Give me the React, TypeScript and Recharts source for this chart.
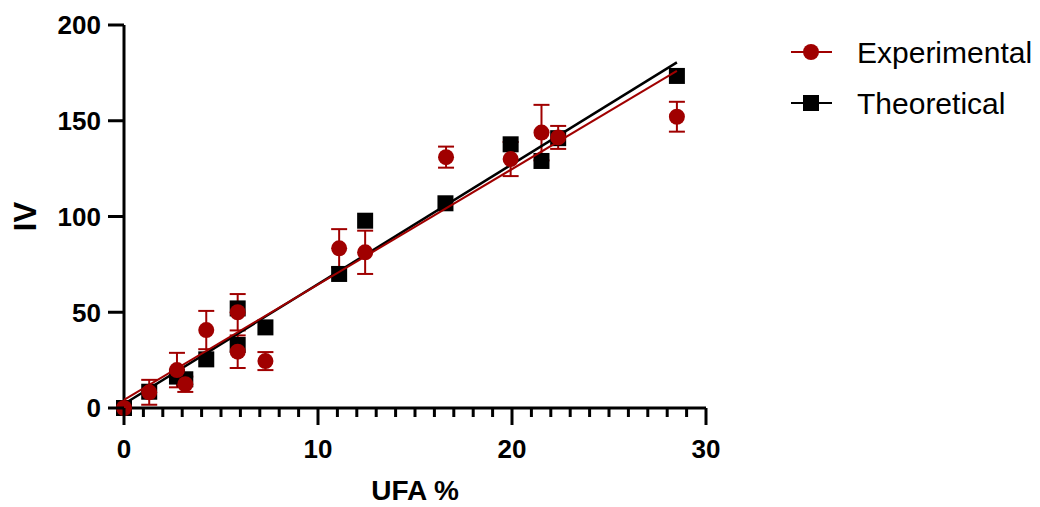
import { ErrorBar, Legend, Scatter, ScatterChart, XAxis, YAxis } from "recharts";

const FONT = "'Liberation Sans', Arial, sans-serif";
const RED = "#a00000";
const BLACK = "#000000";

// UFA % for each sample
const expX = [0, 1.3, 2.73, 3.16, 4.24, 5.86, 5.86, 7.29, 11.09, 12.43, 16.6, 19.93, 21.52, 22.38, 28.5];
const expY = [0, 8.2, 19.8, 12.4, 40.7, 50, 29.4, 24.5, 83.4, 81.3, 131, 130, 143.8, 141.3, 152.1];
const expErr = [0, 6.5, 9, 4, 10, 9.5, 8.5, 4.7, 10, 11.3, 5.5, 8.9, 14.5, 6, 7.8];

const theoX = [0, 1.3, 2.73, 3.16, 4.24, 5.86, 5.86, 7.29, 11.09, 12.43, 16.57, 19.93, 21.52, 22.38, 28.5];
const theoY = [0, 8.5, 16.4, 15, 25.4, 52, 32.9, 42.1, 70, 97.8, 106.9, 137.7, 129, 140.9, 173.4];

// linear fit end points
const fitX = [0, 28.5];
const expFitY = [4.2, 176];
const theoFitY = [2.1, 180.5];

const xTicks = [0, 1, 2, 3, 4, 5, 6, 7, 8, 9, 10, 11, 12, 13, 14, 15, 16, 17, 18, 19, 20, 21, 22, 23, 24, 25, 26, 27, 28, 29, 30];
const xLabels = [0, 10, 20, 30];
const yTicks = [0, 50, 100, 150, 200];

const expData = expX.map((x, i) => ({ x, y: expY[i], err: expErr[i] }));
const theoData = theoX.map((x, i) => ({ x, y: theoY[i] }));
const expFit = fitX.map((x, i) => ({ x, y: expFitY[i] }));
const theoFit = fitX.map((x, i) => ({ x, y: theoFitY[i] }));

function XTick(props: any) {
  const { x, y, payload } = props;
  const major = xLabels.includes(payload.value);
  return (
    <g>
      <line x1={x} x2={x} y1={y} y2={y + (major ? 17 : 9)} stroke={BLACK} strokeWidth={3} />
      {major && (
        <text x={x} y={y + 50} textAnchor="middle" fontFamily={FONT} fontWeight="bold" fontSize={26} fill={BLACK}>
          {payload.value}
        </text>
      )}
    </g>
  );
}

function YTick(props: any) {
  const { x, y, payload } = props;
  return (
    <g>
      <line x1={x - 16} x2={x} y1={y} y2={y} stroke={BLACK} strokeWidth={3} />
      <text x={x - 23} y={y} dy="0.36em" textAnchor="end" fontFamily={FONT} fontWeight="bold" fontSize={26} fill={BLACK}>
        {payload.value}
      </text>
    </g>
  );
}

const Circle = (props: any) => <circle cx={props.cx} cy={props.cy} r={8} fill={RED} />;
const Square = (props: any) => <rect x={props.cx - 8} y={props.cy - 8} width={16} height={16} fill={BLACK} />;
const Nothing = () => <g />;

function LegendBox() {
  return (
    <svg width={260} height={110}>
      <line x1={11} x2={52} y1={32} y2={32} stroke={RED} strokeWidth={2} />
      <circle cx={31} cy={32} r={8} fill={RED} />
      <text x={77} y={43} fontFamily={FONT} fontSize={30} fill={BLACK}>Experimental</text>
      <line x1={11} x2={52} y1={83} y2={83} stroke={BLACK} strokeWidth={2} />
      <rect x={23} y={75} width={16} height={16} fill={BLACK} />
      <text x={77} y={94} fontFamily={FONT} fontSize={30} fill={BLACK}>Theoretical</text>
    </svg>
  );
}

export default function App() {
  return (
    <div style={{ position: "absolute", left: 0, top: 0, background: "#fff" }}>
      {/* the legend's 260px width is added to the right offset, so the margin is 334 - 260 */}
      <ScatterChart width={1040} height={507} margin={{ top: 25, right: 74, bottom: 0, left: 0 }}>
        <XAxis
          type="number"
          dataKey="x"
          domain={[0, 30]}
          ticks={xTicks}
          interval={0}
          height={99}
          tickSize={0}
          tickMargin={0}
          tickLine={false}
          axisLine={{ stroke: BLACK, strokeWidth: 3 }}
          tick={<XTick />}
          label={{
            content: (p: any) => (
              <text
                x={p.viewBox.x + p.viewBox.width / 2}
                y={p.viewBox.y + 92}
                textAnchor="middle"
                fontFamily={FONT}
                fontWeight="bold"
                fontSize={28}
                fill={BLACK}
              >
                UFA %
              </text>
            ),
          }}
        />
        <YAxis
          type="number"
          dataKey="y"
          domain={[0, 200]}
          ticks={yTicks}
          interval={0}
          width={124}
          tickSize={0}
          tickMargin={0}
          tickLine={false}
          axisLine={{ stroke: BLACK, strokeWidth: 3 }}
          tick={<YTick />}
          label={{
            content: (p: any) => {
              const cy = p.viewBox.y + p.viewBox.height / 2;
              return (
                <text
                  x={36}
                  y={cy}
                  transform={`rotate(-90, 36, ${cy})`}
                  textAnchor="middle"
                  fontFamily={FONT}
                  fontWeight="bold"
                  fontSize={31}
                  fill={BLACK}
                >
                  IV
                </text>
              );
            },
          }}
        />
        <Legend
          layout="horizontal"
          verticalAlign="middle"
          align="right"
          content={() => <LegendBox />}
          wrapperStyle={{ left: 780, top: 20, width: 260, height: 110 }}
        />
        <Scatter data={theoData} shape={<Square />} fill={BLACK} isAnimationActive={false} legendType="none" />
        <Scatter
          data={theoFit}
          shape={<Nothing />}
          fill={BLACK}
          line={{ stroke: BLACK, strokeWidth: 2.5 }}
          isAnimationActive={false}
          legendType="none"
        />
        <Scatter
          data={expFit}
          shape={<Nothing />}
          fill={RED}
          line={{ stroke: RED, strokeWidth: 2 }}
          isAnimationActive={false}
          legendType="none"
        />
        <Scatter data={expData} shape={<Circle />} fill={RED} isAnimationActive={false} legendType="none">
          <ErrorBar dataKey="err" direction="y" width={8} stroke={RED} strokeWidth={2} />
        </Scatter>
      </ScatterChart>
    </div>
  );
}
